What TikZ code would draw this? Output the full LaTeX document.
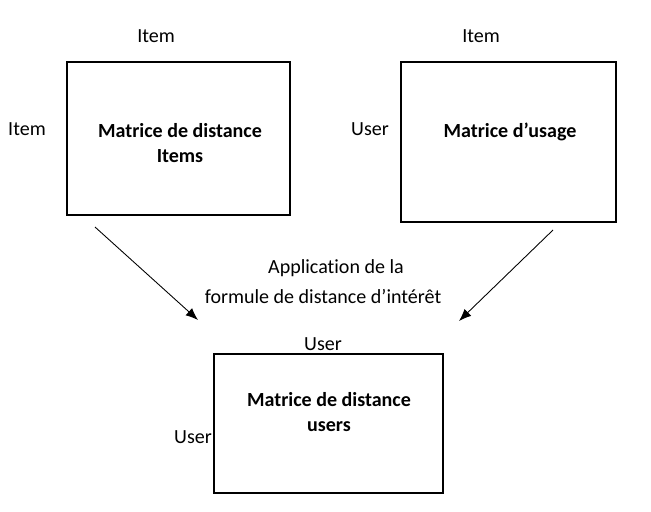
\documentclass[tikz,border=0pt]{standalone}
\usepackage{fontspec}
\setmainfont{Carlito}[Ligatures={NoCommon}]
\usetikzlibrary{arrows.meta}
\begin{document}
\begin{tikzpicture}[
    x=0.02cm, y=-0.02cm,
    every node/.style={font=\fontsize{11.4}{14.2}\selectfont},
    matbox/.style={rectangle, draw, line width=0.6pt, inner sep=0pt},
    boxtext/.style={align=center, font=\fontsize{11.4}{14.2}\selectfont\bfseries},
    arrow/.style={-{Latex[length=7pt,width=5.5pt]}, line width=0.5pt}
]
\useasboundingbox (0,0) rectangle (651,511);

\node[matbox, minimum width=223*0.02cm, minimum height=153*0.02cm] (mitems) at (178.5,138.5) {};
\node[matbox, minimum width=215*0.02cm, minimum height=160*0.02cm] (musage) at (508.5,142) {};
\node[matbox, minimum width=229*0.02cm, minimum height=139*0.02cm] (musers) at (328.5,423.5) {};

\node[boxtext] (titems) at (180,143) {Matrice de distance\\Items};
\node[boxtext] (tusage) at (510,132) {Matrice d’usage};
\node[boxtext] (tusers) at (329,412) {Matrice de distance\\users};

\node (itemtop1) at (156,36) {Item};
\node (itemleft) at (27,129) {Item};
\node (itemtop2) at (481,36) {Item};
\node (userleft1) at (370,129) {User};
\node (usertop) at (323,344) {User};
\node (userleft2) at (193,437) {User};

\node (formule1) at (336,268) {Application de la};
\node (formule2) at (323,297) {formule de distance d’intérêt};

\coordinate (a1) at (95,227);
\coordinate (b1) at (198,320);
\coordinate (a2) at (553,230);
\coordinate (b2) at (459,321);
\draw[arrow] (a1) -- (b1);
\draw[arrow] (a2) -- (b2);
\end{tikzpicture}
\end{document}
